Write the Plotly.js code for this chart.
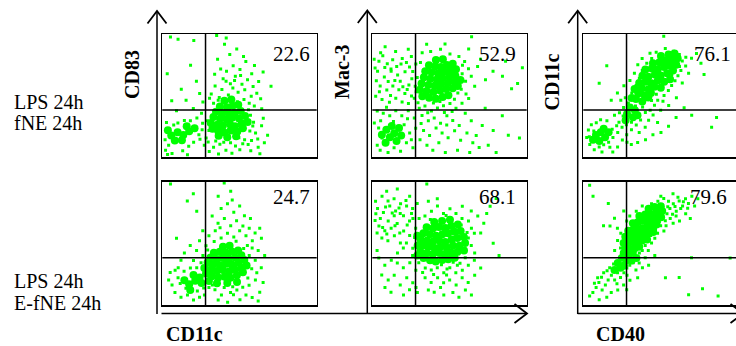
<!DOCTYPE html>
<html>
<head>
<meta charset="utf-8">
<script src="https://cdn.plot.ly/plotly-3.0.1.min.js"></script>
<style>html,body{margin:0;padding:0;background:#fff;}#chart{width:736px;height:346px;}</style>
</head>
<body>
<div id="chart"></div>
<script>
// ---------------- data (0-100 units per panel) ----------------
const rowLabels = [["LPS 24h", "fNE 24h"], ["LPS 24h", "E-fNE 24h"]];
const yAxisLabels = ["CD83", "Mac-3", "CD11c"];
const xAxisLabels = ["CD11c", "CD40"];
const quadrantValues = ["22.6", "52.9", "76.1", "24.7", "68.1", "79.6"];
const gateX = [28, 28, 28, 28, 28, 28];
const gateY = [38.4, 38.4, 38.4, 38.4, 38.4, 38.4];

// Panel 1: LPS+fNE, CD83 vs CD11c  (dense core events / sparse events)
const p1Core = [[32.5,23.1],[36.2,21.4],[40.1,20.2],[44.3,21.7],[48.6,20.9],[52.2,23.5],
[31.4,27.8],[35.7,26.3],[39.2,25.6],[43.8,26.9],[47.1,25.2],[51.5,27.4],[55.3,28.6],
[33.1,32.6],[37.4,31.2],[41.6,30.8],[45.2,32.1],[49.7,31.5],[53.6,33.4],
[34.8,36.9],[38.9,35.7],[42.7,36.4],[46.9,35.9],[50.8,37.6],
[37.3,41.2],[41.9,40.6],[45.6,41.8],[49.2,42.7],[40.2,45.9],[44.7,46.8],
[36.5,17.4],[42.1,16.2],[47.8,17.1],
[5.8,17.6],[9.9,20.4],[13.6,18.1],[17.4,21.2],[8.1,13.7],[12.7,13.9],[20.9,23.6],[3.6,21.9],[15.8,25.1]];
const p1Cloud = [[31.7,51.3],[34.2,57.8],[36.9,48.4],[38.6,54.9],[41.3,61.7],[42.8,50.6],[45.7,56.2],[47.3,65.8],[49.1,52.7],[51.6,59.3],[53.4,54.8],[55.2,62.9],[57.6,49.6],[58.8,57.4],[61.2,51.9],[63.7,47.5],[33.9,67.4],[37.8,71.6],[41.6,69.8],[45.9,74.3],[50.3,71.2],[54.1,77.6],[57.9,67.7],[62.4,61.5],[35.8,79.6],[43.7,83.4],[48.2,87.9],[52.6,81.7],[59.7,74.4],[65.3,69.2],[70.4,57.6],[33.2,43.8],[56.3,43.9],[59.6,41.7],[64.4,39.3],[40.3,91.6],[41.4,96.8],[35.2,98.7],[39.4,63.8],[44.1,59.6],[48.6,45.1],[52.9,46.8],[36.2,46.3],[55.8,38.6],[57.1,34.1],[30.6,47.9],[46.8,62.3],[50.7,66.4],
[5.3,97.6],[10.2,95.8],[20.4,94.7],[18.3,74.6],[3.2,67.8],[22.1,61.7],[12.3,55.2],[6.1,45.8],[15.4,46.3],[24.2,51.7],[26.3,44.9],[20.1,39.6],[9.2,37.8],[25.4,35.7],
[57.8,13.6],[60.4,19.7],[62.1,8.2],[64.3,25.6],[66.1,11.8],[63.2,2.9],[57.3,5.4],[68.2,17.9],[65.4,31.7],[59.1,28.4],[55.6,10.3],[50.2,6.1],[47.4,9.2],[44.2,11.7],[53.3,14.2],[49.6,15.8],[61.8,14.8],[56.7,21.4],
[29.1,29.6],[30.2,21.8],[28.4,15.7],[27.2,9.8],[2.7,28.3],[2.1,5.8],[6.3,3.1],[13.2,5.4],[17.1,8.9],[20.3,12.2],[24.4,14.6],[10.1,27.8],[14.3,29.9],[18.2,29.6],[22.4,31.8],[26.1,27.7],[3.4,2.2],[16.3,2.1],[30.4,4.8],[33.2,8.1],[37.3,10.6],[41.2,5.8],[45.1,3.2],[36.4,2.7],[4.1,9.7],[7.4,26.1],[23.7,18.3],[1.8,14.2],[25.8,22.4],[29.7,12.4],[34.6,13.2],[39.8,12.3],[52.1,10.9],[58.6,25.3]];

// Panel 2: LPS+fNE, Mac-3 vs CD11c
const p2Core = [[32.4,49.6],[36.8,48.3],[41.2,47.5],[45.6,48.9],[49.3,50.4],
[30.8,54.7],[35.1,53.6],[39.6,52.9],[43.9,54.2],[47.8,55.3],[52.1,56.1],[55.4,57.8],
[31.9,59.8],[36.3,58.7],[40.5,58.1],[44.6,59.4],[48.9,60.2],[53.2,61.3],[57.1,62.6],
[33.4,64.9],[37.6,63.8],[41.8,63.1],[45.3,64.4],[49.7,65.3],[53.8,66.2],
[34.3,69.7],[38.4,68.9],[42.6,68.2],[46.4,69.5],[50.6,70.3],[54.2,71.4],
[36.7,74.6],[40.8,73.8],[44.5,73.2],[48.3,74.9],[52.1,75.8],[41.2,78.9],[45.7,79.6],
[9.1,22.4],[12.6,25.3],[14.2,19.6],[17.3,23.8],[11.4,16.3],[15.7,13.2],[8.6,11.8],[18.7,17.6],[6.2,18.2]];
const p2Cloud = [[1.2,79.6],[4.3,77.8],[6.8,82.3],[9.7,75.9],[13.2,79.1],[15.8,73.6],[19.4,80.2],[22.1,76.8],[25.3,81.7],[28.2,75.6],[5.1,57.8],[9.4,54.6],[13.3,57.9],[17.2,54.7],[21.1,51.8],[25.4,49.7],[2.2,49.6],[6.3,46.8],[11.1,44.6],[15.2,47.9],[19.3,44.8],[23.4,43.6],[27.2,47.8],[29.6,44.2],[8.3,89.6],[15.1,85.8],[23.3,87.6],[5.4,84.7],[12.2,69.8],[18.1,61.7],[26.2,69.6],[29.1,64.8],[3.4,69.7],[7.8,65.2],[12.1,71.6],[16.4,66.8],[21.2,69.3],[25.6,63.7],[27.8,57.6],[2.6,62.1],[10.3,61.4],[14.6,62.3],[19.8,57.2],[23.7,58.6],[1.8,72.4],[8.1,72.9],[18.6,75.7],[24.1,73.2],[4.6,53.1],[11.8,50.2],[22.6,54.9],[28.4,53.1],
[32.3,84.7],[37.8,85.9],[44.2,87.6],[50.3,83.8],[56.1,81.7],[59.8,77.6],[62.3,71.8],[58.2,67.7],[60.4,61.6],[64.1,65.8],[66.3,57.7],[68.2,73.6],[62.4,87.8],[70.1,79.6],[73.3,62.8],[78.2,69.7],[84.3,65.8],[90.2,55.6],[94.1,59.8],[86.3,77.8],[97.2,72.6],[64.3,97.8],[47.1,91.8],[35.2,91.6],[57.6,55.2],[55.4,52.1],[60.7,51.3],[53.2,47.1],[58.4,74.6],[31.2,76.8],
[30.4,39.8],[34.1,41.7],[38.3,37.6],[42.2,39.9],[46.1,41.8],[50.3,43.6],[54.2,39.7],[58.1,43.8],[62.4,47.6],[32.2,33.8],[36.3,29.7],[40.1,31.8],[44.2,27.6],[48.3,33.7],[52.1,29.8],[56.3,25.7],[60.2,35.8],[64.1,29.7],[33.2,21.8],[37.1,17.6],[41.3,23.8],[45.2,19.7],[49.1,15.8],[53.3,21.6],[57.2,13.8],[61.3,19.7],[65.1,11.8],[69.2,7.9],[35.4,9.8],[39.2,5.7],[43.1,11.8],[47.3,3.9],[55.2,5.8],[63.1,3.8],[67.3,17.7],[71.2,25.8],[75.1,9.7],[78.3,21.8],[84.2,33.7],[88.1,17.8],[95.3,15.7],[80.2,3.9],[73.1,39.7],[31.6,27.4],[35.9,36.2],[46.7,36.4],[39.6,44.1],[43.8,45.3],[48.2,26.1],[51.7,37.2],[30.9,14.2],
[3.2,37.6],[7.1,35.8],[11.3,33.7],[15.2,37.8],[19.1,33.6],[23.3,37.7],[27.2,31.8],[4.1,23.8],[6.3,15.7],[3.2,9.8],[5.1,5.8],[10.2,3.9],[14.1,7.8],[18.3,4.9],[22.1,11.8],[24.2,19.7],[26.3,7.8],[28.1,23.6],[1.3,27.8],[20.6,26.4],[22.8,31.2],[5.4,29.6],[13.7,29.1],[25.3,14.2],[9.2,40.6]];

// Panel 3: LPS+fNE, CD11c vs CD40
const p3Core = [[35.6,51.8],[39.7,50.3],[43.8,52.1],[33.2,55.4],[37.9,56.1],[42.3,55.2],[46.1,57.3],[50.2,56.4],
[36.2,60.3],[40.4,61.2],[44.1,60.1],[48.3,62.2],[52.4,61.3],[56.2,63.4],
[38.3,66.2],[42.1,65.3],[46.4,67.1],[50.1,66.3],[54.3,68.2],[58.1,70.4],
[40.2,71.3],[44.4,72.1],[48.2,71.4],[52.3,73.2],[56.1,74.3],[60.2,75.1],
[45.1,76.3],[49.3,77.1],[53.2,78.3],[57.4,79.2],[61.1,80.3],[50.3,82.1],[55.2,83.4],[59.1,84.2],
[34.1,47.2],[38.2,45.3],[31.3,48.1],[42.1,48.4],[30.2,40.3],[33.4,38.2],[28.3,35.1],[32.2,32.4],[35.1,34.2],[27.4,30.1],
[8.2,18.1],[11.3,20.4],[14.1,16.2],[10.4,13.3],[13.2,23.1],[6.3,14.2],[16.4,20.3]];
const p3Cloud = [[4.2,10.3],[7.1,6.2],[10.3,8.4],[13.2,10.1],[16.4,12.3],[19.2,16.1],[22.3,20.2],[25.1,24.3],[3.3,22.1],[5.2,26.3],[8.4,28.1],[11.2,30.4],[15.3,29.6],[20.2,34.1],[23.4,36.2],[26.1,40.3],[29.2,44.1],[31.4,52.2],[34.2,58.3],[36.3,64.1],[38.2,70.3],[41.1,76.2],[44.3,80.1],[47.2,85.3],[53.1,88.2],[58.3,86.1],[62.2,83.4],[64.1,78.2],[66.3,74.1],[63.2,70.4],[61.3,66.2],[59.4,62.1],[57.2,58.3],[55.1,54.2],[52.3,50.1],[48.2,46.3],[46.1,42.2],[43.3,38.1],[40.2,36.3],[37.1,30.2],[34.3,26.1],[31.2,22.3],[28.1,18.2],[25.3,14.1],[22.2,8.3],[19.1,4.2],
[36.2,20.1],[40.1,24.3],[42.3,30.1],[45.2,34.3],[50.1,38.2],[55.3,42.1],[48.1,28.3],[40.3,14.2],[31.1,10.3],[44.2,46.1],[60.3,48.2],[64.1,60.3],[68.2,68.1],[70.1,80.3],[73.3,84.1],[76.2,76.3],[52.1,98.2],[10.3,60.1],[15.2,74.3],[18.1,46.2],[27.2,48.3],[22.1,52.2],[26.3,58.1],[30.2,62.3],[33.1,68.2],[35.3,75.1],[38.1,80.2],[43.2,84.3],
[70.2,34.1],[86.3,32.2],[83.1,24.3],[78.2,67.1],[60.1,32.3],[65.3,40.2],[55.2,25.1],[50.3,20.2],[45.1,18.3],[35.2,12.1],[28.3,12.2],[12.1,4.3],[2.2,16.1],[24.3,46.2],[29.6,37.8],[25.8,33.4],[23.1,28.4],[18.7,22.8],[6.8,21.4],[3.9,16.7],[17.2,8.1],[21.6,25.6],[27.9,26.3],[33.8,41.6],[38.4,40.7],[47.3,51.2],[51.6,45.4],[62.3,73.6],[66.4,81.2],[57.3,67.1],[31.2,28.4]];

// Panel 4: LPS+E-fNE, CD83 vs CD11c
const p4Core = [[28.3,25.6],[32.1,23.4],[36.2,22.3],[40.4,22.9],[44.1,22.1],[48.3,24.2],[52.2,26.6],
[27.2,30.1],[31.4,28.7],[35.3,27.6],[39.2,28.4],[43.4,27.3],[47.2,28.6],[51.3,30.4],[54.6,32.1],
[29.3,34.4],[33.2,33.1],[37.4,32.2],[41.3,33.4],[45.2,32.6],[49.4,34.2],[53.1,36.4],
[31.2,38.6],[35.3,37.4],[39.1,38.2],[43.3,37.6],[47.4,38.3],[51.2,40.4],
[33.4,42.3],[37.2,43.1],[41.4,42.4],[45.3,43.2],[49.1,44.3],[39.3,47.2],[43.6,48.1],
[24.2,22.4],[21.3,19.6],[25.4,17.8],[30.2,19.4],[35.4,17.6],[42.1,17.8],[48.4,18.6],
[14.3,20.1],[17.4,16.8],[20.2,24.3],[18.1,12.2]];
const p4Cloud = [[30.2,56.1],[34.3,60.2],[38.1,54.3],[42.2,58.1],[46.3,55.2],[50.1,60.3],[54.2,56.1],[58.3,52.2],[36.1,66.3],[40.2,70.1],[44.3,64.2],[48.1,68.3],[52.2,64.1],[56.3,62.2],[60.1,58.3],[64.2,54.1],[32.3,72.2],[38.1,78.3],[42.2,82.1],[46.3,75.2],[50.1,80.3],[36.2,88.1],[44.3,92.2],[40.1,98.9],[26.2,60.3],[22.3,76.1],[20.1,90.2],[16.2,84.3],[5.3,98.1],[24.1,52.2],[28.3,48.1],[58.2,46.3],[62.1,44.2],[66.3,40.1],[60.2,36.3],[64.1,30.2],[56.3,40.1],[57.1,70.2],[53.2,72.3],[63.1,62.2],[45.3,85.1],[55.1,48.3],[33.6,51.4],[47.8,51.7],[29.4,44.6],[52.7,45.9],[37.4,62.7],
[40.1,14.2],[44.2,10.1],[48.3,12.2],[52.1,14.3],[56.2,16.1],[60.3,20.2],[63.1,10.3],[58.2,6.1],[50.3,4.2],[46.1,8.3],[54.2,8.1],[38.3,8.2],[34.1,12.3],[30.2,14.1],[27.3,8.2],[24.1,6.3],[20.2,4.1],[16.3,8.2],[12.1,6.3],[8.2,10.1],[6.3,16.2],[4.1,20.3],[10.2,22.1],[8.3,28.2],[14.1,27.3],[18.2,30.1],[22.3,30.2],[25.1,34.3],[20.2,36.1],[10.3,30.2],[5.1,26.3],[61.2,26.1],[65.3,18.2],[62.1,3.3],[36.2,4.1],[42.3,2.2],[11.6,17.4],[15.3,13.6],[22.7,11.4],[26.8,13.7],[32.4,16.3],[45.6,14.8],[55.4,21.8],[57.9,29.4],
[9.2,54.1],[14.3,42.2],[18.1,48.3],[22.2,44.1],[26.3,40.2],[12.1,36.3]];

// Panel 5: LPS+E-fNE, Mac-3 vs CD11c
const p5Core = [[33.2,38.1],[37.4,36.3],[41.1,35.2],[45.3,36.4],[49.2,37.1],[53.4,38.3],
[31.1,43.2],[35.3,42.1],[39.2,41.3],[43.4,42.2],[47.1,41.4],[51.3,42.3],[55.2,43.1],[59.4,44.2],
[32.3,48.1],[36.2,47.3],[40.4,46.2],[44.1,47.1],[48.3,46.4],[52.2,48.2],[56.4,48.1],[60.1,50.3],
[31.2,53.4],[35.4,52.1],[39.1,51.3],[43.3,52.4],[47.2,51.1],[51.4,53.2],[55.1,54.3],[59.3,55.1],
[33.1,58.2],[37.3,57.4],[41.2,56.1],[45.4,57.3],[49.1,58.2],[53.3,59.4],[57.2,60.1],
[35.2,63.1],[39.4,62.3],[43.1,63.2],[47.3,62.4],[51.2,64.1],[55.4,65.2],[40.1,67.3],[45.2,68.1],[50.3,69.2],
[29.2,40.1],[29.4,48.3],[29.1,56.2]];
const p5Cloud = [[2.1,84.2],[6.3,88.1],[10.2,84.3],[14.1,86.2],[18.3,82.1],[22.2,80.3],[26.1,78.2],[4.3,64.1],[8.1,60.2],[12.2,62.3],[16.1,66.2],[20.3,60.1],[24.2,56.3],[28.1,62.2],[2.3,74.1],[14.2,72.3],[18.1,74.2],[26.3,70.1],[6.2,54.3],[10.1,52.2],[14.3,56.1],[18.2,50.3],[22.1,50.2],[26.2,46.1],[30.3,70.2],[29.1,82.3],[24.2,88.1],[9.3,92.2],[3.1,58.3],[16.2,94.1],[35.3,98.2],[20.1,46.3],[3.4,78.3],[7.2,75.1],[11.3,80.2],[15.1,76.3],[5.2,70.1],[10.3,68.2],[20.2,72.3],[24.1,68.1],[8.6,79.4],[12.9,74.7],[17.3,78.6],[21.8,84.7],[25.4,74.2],[1.8,68.6],[6.7,62.8],[14.7,64.3],[22.6,64.9],[27.4,54.8],[9.4,57.6],[17.8,58.4],
[34.1,72.2],[38.3,76.1],[42.2,80.3],[46.1,74.2],[50.3,78.1],[54.2,74.3],[58.1,70.2],[62.3,68.1],[64.2,62.3],[66.1,58.2],[68.3,72.1],[72.2,66.3],[74.1,74.2],[76.3,80.1],[80.2,86.3],[64.1,76.2],[58.3,80.1],[42.1,86.2],[36.3,84.1],[62.2,54.3],[64.1,48.2],[66.3,42.1],[70.2,58.3],[82.1,40.2],[78.3,50.1],[60.2,38.3],[55.1,32.2],[57.6,64.8],[61.4,58.7],[47.8,72.6],[37.6,69.4],
[30.1,34.2],[34.3,30.1],[38.2,28.3],[42.1,30.2],[46.3,26.1],[50.2,30.3],[54.1,26.2],[58.3,28.1],[62.2,32.3],[66.1,36.2],[34.2,22.1],[38.1,18.3],[42.3,22.2],[46.2,18.1],[50.1,20.3],[54.3,16.2],[58.2,22.1],[62.1,18.3],[66.3,24.2],[70.2,30.1],[40.1,10.3],[46.3,8.2],[52.2,10.1],[56.1,6.3],[60.3,12.2],[44.2,14.1],[48.1,24.3],[36.3,12.2],[64.2,8.1],[32.6,26.4],[44.8,32.7],[52.4,34.6],[39.7,24.8],[56.8,33.9],[48.4,29.1],
[4.2,38.1],[8.1,32.3],[12.3,36.2],[16.2,34.1],[20.1,30.3],[24.3,34.2],[28.2,28.1],[6.1,24.3],[10.3,20.2],[14.2,24.1],[18.1,16.3],[22.3,22.2],[26.2,18.1],[12.1,10.3],[20.2,8.1],[24.1,12.3],[28.3,14.2],[8.2,14.1],[3.1,44.3],[16.3,42.1],[26.1,40.2],[29.2,10.1]];

// Panel 6: LPS+E-fNE, CD11c vs CD40
const p6Core = [[26.2,42.1],[29.4,40.3],[32.1,42.4],[27.3,46.2],[30.1,45.4],[33.4,46.1],[36.2,47.3],
[26.1,50.3],[29.3,50.1],[32.2,51.4],[35.4,51.2],[38.1,52.3],[41.3,53.1],
[27.2,55.4],[30.4,55.1],[33.1,56.3],[36.3,56.2],[39.2,57.4],[42.1,58.1],[45.3,59.2],
[29.1,60.3],[32.3,61.1],[35.2,61.4],[38.4,62.2],[41.1,63.3],[44.2,64.1],[47.4,65.2],
[32.1,66.3],[35.3,67.1],[38.2,68.4],[41.4,68.2],[44.1,69.3],[47.2,70.1],[50.4,71.2],
[36.3,72.1],[40.1,73.4],[43.2,74.1],[47.4,75.3],[51.1,76.2],[42.3,78.1],[46.1,79.4],[50.2,80.1],
[28.1,36.3],[31.3,36.1],[25.2,38.4],[34.4,38.2],[22.3,34.1],[24.1,30.3],[20.2,28.4],[26.3,32.1]];
const p6Cloud = [[54.2,74.1],[56.1,78.3],[58.3,82.2],[60.2,76.1],[62.1,84.3],[64.3,80.2],[66.2,86.1],[68.1,82.3],[70.3,88.2],[55.2,84.1],[52.1,86.3],[48.3,84.2],[44.2,82.1],[53.1,68.3],[56.3,70.2],[60.1,72.1],[58.2,66.3],[62.3,68.2],[50.1,64.3],[52.2,60.1],[48.1,58.2],[46.3,54.1],[44.2,50.3],[40.1,48.2],[36.3,42.1],[38.2,44.3],[42.1,44.2],[66.3,74.1],[72.1,80.3],[74.2,86.1],[63.1,78.2],[69.3,70.1],[58.1,90.3],[50.2,88.1],[54.7,79.6],[59.4,79.8],[64.8,83.7],[67.6,78.4],[57.8,73.6],[61.3,87.4],[45.6,72.8],[49.3,67.6],[53.6,64.2],[46.8,61.7],[43.7,56.4],[40.6,58.9],
[4.1,97.2],[6.3,88.1],[16.2,82.3],[13.1,64.2],[17.3,64.1],[20.2,70.3],[22.1,62.2],[24.3,58.1],[22.2,52.3],[24.1,46.2],[20.3,44.1],[26.2,76.3],[30.1,72.2],[34.3,76.1],[38.2,80.3],[28.1,68.2],
[18.2,24.1],[16.1,20.3],[14.3,16.2],[12.2,12.1],[10.1,18.3],[8.3,14.2],[6.2,10.1],[4.1,7.3],[9.3,22.2],[13.2,26.1],[17.1,30.3],[20.3,20.2],[22.2,26.1],[24.1,22.3],[26.3,26.2],[28.2,30.1],[30.1,32.3],[32.3,34.2],[36.2,34.1],[40.1,38.3],[28.3,24.2],[30.2,20.1],[34.1,28.3],[38.3,30.2],[26.1,16.3],[22.3,12.2],[18.1,10.1],[15.2,6.3],[10.3,4.2],[28.1,12.3],[35.2,22.1],[46.3,40.2],[70.1,38.3],[77.2,13.1],[87.3,7.2],[62.1,22.3],[53.2,22.1],[42.3,32.2],[95.1,38.1],[68.2,8.3],[19.6,33.2],[23.4,38.7],[15.4,27.8],[11.8,22.6],[7.2,17.6],[25.7,29.4],[21.8,17.3]];

const coreSets = [p1Core, p2Core, p3Core, p4Core, p5Core, p6Core];
const cloudSets = [p1Cloud, p2Cloud, p3Cloud, p4Cloud, p5Cloud, p6Cloud];

// ---------------- layout helpers ----------------
const W = 736, H = 346;
const px = x => x / W;
const py = y => 1 - y / H;
const colX = [[162.3, 316.7], [372.3, 526.7], [583.3, 737.7]];
const rowY = [[34, 157.3], [181.7, 305]];
const GREEN = '#00ff00';
const SERIF = '"Liberation Serif", "Times New Roman", serif';

const data = [];
const layout = {
  width: W, height: H,
  margin: {l: 0, r: 0, t: 0, b: 0},
  paper_bgcolor: '#fff', plot_bgcolor: '#fff',
  showlegend: false, hovermode: false,
  shapes: [], annotations: []
};

for (let i = 0; i < 6; i++) {
  const r = Math.floor(i / 3), c = i % 3;
  const n = i === 0 ? '' : String(i + 1);
  const xa = 'x' + n, ya = 'y' + n;
  const cx = colX[c], ry = rowY[r];
  const xEnd = Math.min(cx[1], W);
  const xMax = 100 * (xEnd - cx[0]) / (cx[1] - cx[0]);
  layout['xaxis' + n] = {
    domain: [px(cx[0]), px(xEnd)], range: [0, xMax], anchor: ya,
    showgrid: false, zeroline: false, showticklabels: false, ticks: '',
    showline: true, linecolor: '#000', linewidth: 1.5, mirror: true, fixedrange: true
  };
  layout['yaxis' + n] = {
    domain: [py(ry[1]), py(ry[0])], range: [0, 100], anchor: xa,
    showgrid: false, zeroline: false, showticklabels: false, ticks: '',
    showline: true, linecolor: '#000', linewidth: 1.5, mirror: c < 2, fixedrange: true
  };
  data.push({
    type: 'scatter', mode: 'markers', xaxis: xa, yaxis: ya, cliponaxis: true,
    x: coreSets[i].map(p => p[0]), y: coreSets[i].map(p => p[1]),
    marker: {color: GREEN, size: 8, symbol: 'circle', line: {width: 0}}
  });
  data.push({
    type: 'scatter', mode: 'markers', xaxis: xa, yaxis: ya, cliponaxis: true,
    x: cloudSets[i].map(p => p[0]), y: cloudSets[i].map(p => p[1]),
    marker: {color: GREEN, size: 3, symbol: 'square', line: {width: 0}}
  });
  // quadrant gates
  layout.shapes.push({type: 'line', xref: xa, yref: ya + ' domain', x0: gateX[i], x1: gateX[i], y0: 0, y1: 1,
    line: {color: '#000', width: 1.5}});
  layout.shapes.push({type: 'line', xref: xa + ' domain', yref: ya, x0: 0, x1: 1, y0: gateY[i], y1: gateY[i],
    line: {color: '#000', width: 1.5}});
  // quadrant percentage
  const numRight = [310.7, 516.7, 731.7, 310.7, 516.7, 728.3][i];
  const numY = r === 0 ? 54.2 : 196.7;
  layout.annotations.push({xref: 'paper', yref: 'paper', x: px(numRight), y: py(numY),
    xanchor: 'right', yanchor: 'middle', showarrow: false, borderpad: 0,
    text: quadrantValues[i], font: {family: SERIF, size: 21, color: '#000'}});
}

// axis arrows (lines + open chevrons)
function arrowUp(x, yTip, yTail) {
  layout.shapes.push({type: 'line', xref: 'paper', yref: 'paper', x0: px(x), x1: px(x), y0: py(yTail), y1: py(yTip + 0.5),
    line: {color: '#000', width: 1.5}});
  layout.shapes.push({type: 'path', xref: 'paper', yref: 'paper',
    path: `M${px(x - 9.5)},${py(yTip + 12.5)} L${px(x)},${py(yTip)} L${px(x + 9.5)},${py(yTip + 12.5)}`,
    line: {color: '#000', width: 1.8}});
}
function arrowRight(xTail, xTip, y) {
  layout.shapes.push({type: 'line', xref: 'paper', yref: 'paper', x0: px(xTail), x1: px(xTip - 0.5), y0: py(y), y1: py(y),
    line: {color: '#000', width: 1.5}});
  layout.shapes.push({type: 'path', xref: 'paper', yref: 'paper',
    path: `M${px(xTip - 12.5)},${py(y - 9.5)} L${px(xTip)},${py(y)} L${px(xTip - 12.5)},${py(y + 9.5)}`,
    line: {color: '#000', width: 1.8}});
}
arrowUp(157, 11, 314);
arrowUp(367.3, 10.5, 314);
arrowUp(577.7, 10.7, 314);
arrowRight(161.5, 527, 313.5);
arrowRight(577.7, 743, 313.5);

// y-axis titles (rotated, bold)
[[132, 75], [342, 72], [551.7, 81.7]].forEach((p, k) => {
  layout.annotations.push({xref: 'paper', yref: 'paper', x: px(p[0]), y: py(p[1]),
    xanchor: 'center', yanchor: 'middle', showarrow: false, textangle: -90, borderpad: 0,
    text: '<b>' + yAxisLabels[k] + '</b>', font: {family: SERIF, size: 20, color: '#000'}});
});
// x-axis titles
[[194.5, 334], [620.5, 334]].forEach((p, k) => {
  layout.annotations.push({xref: 'paper', yref: 'paper', x: px(p[0]), y: py(p[1]),
    xanchor: 'center', yanchor: 'middle', showarrow: false, borderpad: 0,
    text: '<b>' + xAxisLabels[k] + '</b>', font: {family: SERIF, size: 20, color: '#000'}});
});
// row labels
const rowLineY = [[101.7, 122.7], [281.3, 302.7]];
rowLabels.forEach((lines, r) => {
  lines.forEach((t, j) => {
    layout.annotations.push({xref: 'paper', yref: 'paper', x: px(12.7), y: py(rowLineY[r][j]),
      xanchor: 'left', yanchor: 'middle', showarrow: false, borderpad: 0,
      text: t, font: {family: SERIF, size: 20, color: '#000'}});
  });
});

Plotly.newPlot('chart', data, layout, {staticPlot: true, displayModeBar: false});
</script>
</body>
</html>
